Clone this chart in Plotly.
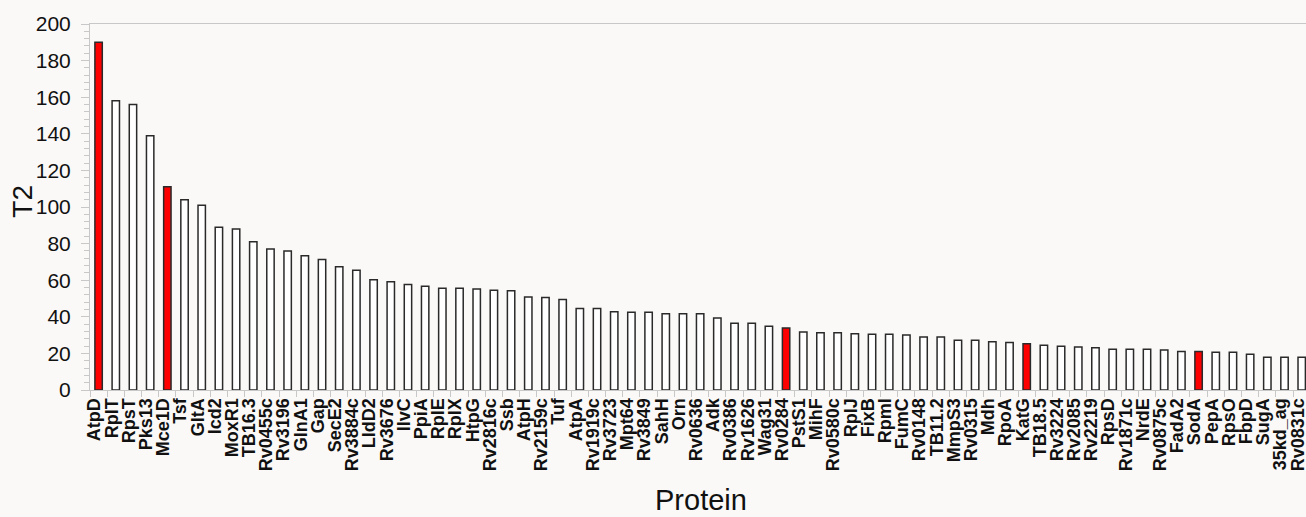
import plotly.graph_objects as go

proteins = ["AtpD", "RplT", "RpsT", "Pks13", "Mce1D", "Tsf", "GltA", "Icd2", "MoxR1", "TB16.3",
            "Rv0455c", "Rv3196", "GlnA1", "Gap", "SecE2", "Rv3884c", "LldD2", "Rv3676", "IlvC", "PpiA",
            "RplE", "RplX", "HtpG", "Rv2816c", "Ssb", "AtpH", "Rv2159c", "Tuf", "AtpA", "Rv1919c",
            "Rv3723", "Mpt64", "Rv3849", "SahH", "Orn", "Rv0636", "Adk", "Rv0386", "Rv1626", "Wag31",
            "Rv0284", "PstS1", "MihF", "Rv0580c", "RplJ", "FixB", "RpmI", "FumC", "Rv0148", "TB11.2",
            "MmpS3", "Rv0315", "Mdh", "RpoA", "KatG", "TB18.5", "Rv3224", "Rv2085", "Rv2219", "RpsD",
            "Rv1871c", "NrdE", "Rv0875c", "FadA2", "SodA", "PepA", "RpsO", "FbpD", "SugA", "35kd_ag",
            "Rv0831c"]

t2_values = [190, 158, 156, 139, 111, 104, 101, 89, 88, 81,
             77, 76, 73.3, 71.3, 67.3, 65.4, 60.2, 59.2, 57.6, 56.7,
             55.6, 55.6, 55.2, 54.5, 54.2, 50.8, 50.5, 49.4, 44.5, 44.5,
             42.8, 42.5, 42.5, 41.7, 41.7, 41.7, 39.4, 36.5, 36.5, 34.8,
             33.9, 31.7, 31.3, 31.3, 30.8, 30.4, 30.4, 30.0, 28.9, 28.9,
             27.2, 27.2, 26.3, 25.9, 25.3, 24.4, 23.9, 23.5, 23.1, 22.2,
             22.2, 22.2, 21.9, 21.1, 21.0, 20.6, 20.6, 19.5, 17.9, 17.9,
             17.9]

highlighted = ["AtpD", "Mce1D", "Rv0284", "KatG", "SodA"]

fill_colors = ["#ff0000" if p in highlighted else "#ffffff" for p in proteins]

bg = "#faf9f7"
grid_gray = "#c8c8c8"

fig = go.Figure(go.Bar(
    x=proteins,
    y=t2_values,
    marker=dict(color=fill_colors, line=dict(color="#2a2a2a", width=1.5)),
))

fig.update_layout(
    width=1306, height=517,
    paper_bgcolor=bg, plot_bgcolor=bg,
    margin=dict(l=90, r=0, t=24, b=127, autoexpand=False),
    bargap=0.57,
    showlegend=False,
    font=dict(family="Liberation Sans, Arial, sans-serif", color="#111111"),
)

fig.update_xaxes(
    range=[-0.5, 70.25],
    automargin=False,
    tickmode="array", tickvals=proteins, ticktext=proteins,
    tickangle=-90,
    tickfont=dict(size=18, weight="bold", color="#111111"),
    ticklabelshift=-4,
    ticks="outside", ticklen=6, tickcolor=grid_gray, tickson="boundaries",
    showline=True, linecolor=grid_gray, linewidth=1,
    showgrid=False, zeroline=False,
    mirror=True,
)

fig.update_yaxes(
    range=[0, 200],
    automargin=False,
    dtick=20,
    tickfont=dict(size=21, color="#111111"),
    ticks="outside", ticklen=8, tickcolor=grid_gray,
    ticklabelstandoff=6,
    minor=dict(dtick=4, ticks="outside", ticklen=5, tickcolor=grid_gray),
    showline=True, linecolor=grid_gray, linewidth=1,
    showgrid=False, zeroline=False,
)

fig.add_annotation(text="T2", xref="paper", yref="paper", x=-0.0555, y=0.516,
                   textangle=-90, showarrow=False, font=dict(size=28, color="#111111"),
                   xanchor="center", yanchor="middle")
fig.add_annotation(text="Protein", xref="paper", yref="paper", x=0.5025, y=-0.30,
                   showarrow=False, font=dict(size=29, color="#111111"),
                   xanchor="center", yanchor="middle")

fig.write_html(
    "out.html",
    config={"displayModeBar": False},
    post_script="document.body.style.margin='0';document.body.style.overflow='hidden';",
)
